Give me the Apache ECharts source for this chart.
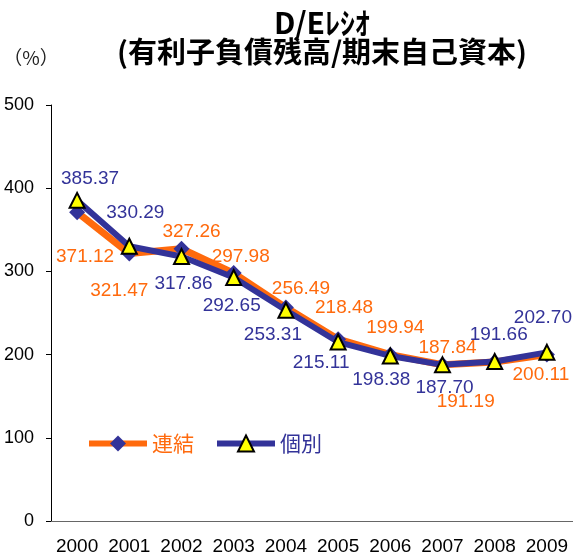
<!DOCTYPE html>
<html>
<head>
<meta charset="utf-8">
<script src="https://cdn.jsdelivr.net/npm/echarts@6/dist/echarts.min.js"></script>
<style>
  html, body { margin: 0; padding: 0; background: #fff; }
  #mychart { width: 573px; height: 557px; }
</style>
</head>
<body>
<div id="mychart"></div>
<script>
// data
const years = ['2000', '2001', '2002', '2003', '2004', '2005', '2006', '2007', '2008', '2009'];
const consolidated = [371.12, 321.47, 327.26, 297.98, 256.49, 218.48, 199.94, 187.84, 191.19, 200.11]; // 連結
const individual = [385.37, 330.29, 317.86, 292.65, 253.31, 215.11, 198.38, 187.70, 191.66, 202.70]; // 個別
const yTicks = [0, 100, 200, 300, 400, 500];

// label offsets from each point (px)
const consolidatedOffsets = [[8, 45], [-10, 37], [10, -17], [7, -16], [15, -19], [6, -31], [5, -27], [5, -17], [-29, 40], [-6, 20]];
const individualOffsets = [[13, -22], [6, -33], [2, 27], [-2, 28], [-13, 25], [-17, 21], [-9, 24], [2, 23], [4, -27], [-4, -35]];

let colors = {
  orange: '#FF6A0D',
  navy: '#333399',
  yellow: '#FFFF00',
  black: '#000000',
  axisGray: '#666666',
};

function buildData(values, offsets) {
  return values.map((v, i) => ({
    value: v,
    label: { offset: offsets[i] },
  }));
}

let myChart = echarts.init(document.getElementById('mychart'));

let option = {
  animation: false,
  title: [
    {
      text: 'D/Eﾚｼｵ',
      left: 322,
      top: 8,
      padding: 0,
      textAlign: 'center',
      textStyle: {
        fontFamily: '"Noto Sans CJK JP"',
        fontWeight: 'bold',
        fontSize: 30,
        color: colors.black,
      },
    },
    {
      text: '(有利子負債残高/期末自己資本)',
      left: 322,
      top: 37,
      padding: 0,
      textAlign: 'center',
      textStyle: {
        fontFamily: '"Noto Sans CJK JP"',
        fontWeight: 'bold',
        fontSize: 29,
        color: colors.black,
      },
    },
    {
      text: '（%）',
      left: 31,
      top: 48,
      padding: 0,
      textAlign: 'center',
      textStyle: {
        fontFamily: '"Noto Sans CJK JP"',
        fontWeight: 'normal',
        fontSize: 19,
        color: '#222',
      },
    },
  ],
  legend: {
    left: 81,
    top: 428,
    itemWidth: 58,
    itemHeight: 20,
    itemGap: 20,
    lineStyle: { width: 6 },
    textStyle: {
      fontFamily: '"Noto Sans CJK JP"',
      fontSize: 21,
    },
    data: [
      { name: '連結', textStyle: { color: colors.orange } },
      { name: '個別', textStyle: { color: colors.navy } },
    ],
  },
  grid: {
    left: 51,
    top: 105,
    width: 525,
    height: 416,
  },
  xAxis: {
    type: 'category',
    data: years,
    boundaryGap: true,
    axisLine: { lineStyle: { color: colors.axisGray, width: 1 } },
    axisTick: { inside: true, length: 5, lineStyle: { color: colors.axisGray } },
    axisLabel: {
      interval: 0,
      color: colors.black,
      fontFamily: '"Liberation Sans", Arial',
      fontSize: 19,
      margin: 16,
    },
  },
  yAxis: {
    type: 'value',
    min: yTicks[0],
    max: yTicks[yTicks.length - 1],
    interval: 100,
    splitLine: { show: false },
    axisLine: { show: true, lineStyle: { color: colors.black, width: 1 } },
    axisTick: { show: true, inside: false, length: 5, lineStyle: { color: colors.black } },
    axisLabel: {
      color: colors.black,
      fontFamily: '"Liberation Sans", Arial',
      fontSize: 18,
      margin: 17,
    },
  },
  series: [
    {
      name: '連結',
      type: 'line',
      data: buildData(consolidated, consolidatedOffsets),
      symbol: 'diamond',
      symbolSize: 16,
      lineStyle: { color: colors.orange, width: 7 },
      itemStyle: { color: colors.navy },
      label: {
        show: true,
        position: 'inside',
        color: colors.orange,
        fontFamily: '"Liberation Sans", Arial',
        fontSize: 19,
        formatter: (p) => p.value.toFixed(2),
      },
    },
    {
      name: '個別',
      type: 'line',
      data: buildData(individual, individualOffsets),
      symbol: 'triangle',
      symbolSize: 15,
      lineStyle: { color: colors.navy, width: 6 },
      itemStyle: { color: colors.yellow, borderColor: colors.black, borderWidth: 2 },
      label: {
        show: true,
        position: 'inside',
        color: colors.navy,
        fontFamily: '"Liberation Sans", Arial',
        fontSize: 19,
        formatter: (p) => p.value.toFixed(2),
      },
    },
  ],
};

myChart.setOption(option);
</script>
</body>
</html>
